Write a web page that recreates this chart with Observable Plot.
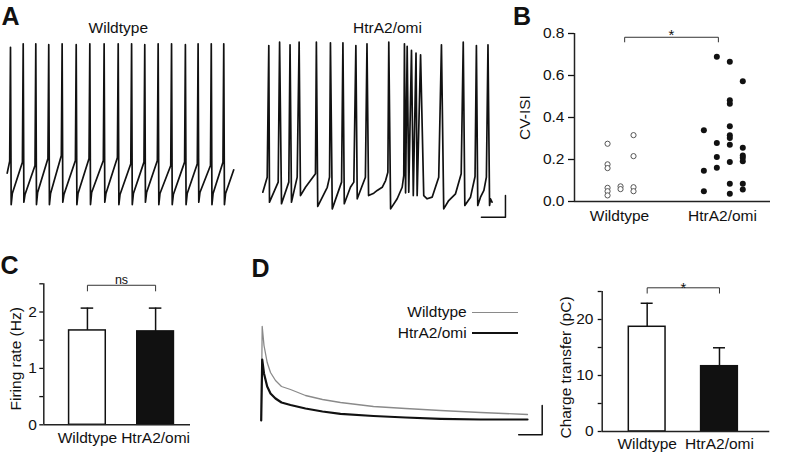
<!DOCTYPE html>
<html><head><meta charset="utf-8">
<script src="https://cdn.jsdelivr.net/npm/d3@7"></script>
<script src="https://cdn.jsdelivr.net/npm/@observablehq/plot@0.6"></script>
<style>
html,body{margin:0;padding:0;background:#fff;}
#fig{position:relative;width:810px;height:454px;overflow:hidden;background:#fff;font-family:"Liberation Sans",Arial,Helvetica,sans-serif;color:#111;}
#fig svg{position:absolute;overflow:visible;}
.lbl{position:absolute;line-height:1;white-space:nowrap;font-size:15.5px;}
.letter{font-weight:bold;font-size:25px;}
.ctr{transform:translateX(-50%);}
.leg{position:absolute;height:0;}
</style></head><body><div id="fig"></div>
<script>
// ---------------- Panel A : membrane potential traces (time s, potential mV) ----------------
const wtSpikeT  = [0.145,0.705,1.26,1.83,2.42,3.04,3.64,4.27,4.89,5.48,6.06,6.65,7.24,7.85,8.41,8.99,9.54];
const wtPeakV   = [23.9,26.1,26.1,25.5,26.1,25.5,26.1,26.1,26.1,26.1,25.5,26.1,26.1,25.5,26.1,26.1,26.1];
const wtThreshV = [-47.3,-47.9,-50,-45.6,-43.8,-46.9,-45.6,-46.9,-45,-48.9,-47.9,-46.9,-50,-47.9,-48.9,-50,-47.9];
const wtTroughV = [-74.4,-72.9,-74.4,-74.4,-72.9,-74.4,-74.4,-72.9,-74.4,-74.4,-72.9,-74.4,-74.4,-74.4,-72.9,-74.4,-74.4];
const wtRecoverV= [-67.5,-68.1,-66.9,-67.5,-68.1,-67.5,-66.9,-67.5,-68.1,-67.5,-66.9,-67.5,-68.1,-67.5,-66.9,-67.5,-67.5];
const wtStartEnd = [[0,-54.8],[9.98,-52.7]];

const htSpikeT = [0.264,0.74,1.2,1.6,2.36,2.98,3.53,4.1,4.59,5.55,6.24,6.36,6.55,6.75,6.95,7.87,8.83,9.41,9.92];
const htPeakV  = [25,27.1,25.4,27.1,27.1,26.7,26.7,25,26.1,27.1,26.1,24.4,21.9,20.2,19.2,25.4,27.1,25,25.4];
const htBaseT = [0,0.194,0.295,0.678,0.824,1.145,1.264,1.515,1.66,1.88,2.10,2.32,2.42,2.84,2.94,3.06,3.47,3.59,3.86,4.01,4.16,4.52,4.66,4.89,5.04,5.26,5.41,5.51,5.63,5.92,6.14,6.21,6.29,6.43,6.63,6.80,7.09,7.24,7.46,7.75,7.97,8.19,8.49,8.74,8.90,9.15,9.35,9.47,9.59,9.74,9.85,9.99,10.03,10.1];
const htBaseV = [-66.7,-57.3,-72.9,-60.4,-73.9,-60.4,-72.9,-57.3,-68.8,-63.6,-59.4,-55.2,-75.6,-63.6,-57.3,-77.1,-60.4,-73.9,-63.6,-60.4,-70.8,-57.3,-68.8,-67.3,-65.6,-63.6,-59.4,-54.2,-77.1,-70.8,-63.6,-56.3,-67.1,-66.7,-68.8,-68.8,-68.8,-70.8,-69.8,-57.3,-77.1,-71.9,-67.7,-55.2,-75,-69.8,-56.9,-75,-69.8,-65.6,-57.3,-75,-70.8,-72.9];
const aScaleT = [9.63,10.69,10.69];
const aScaleV = [-82.3,-82.3,-68.75];
const traceTitles = ["Wildtype","HtrA2/omi"];

// ---------------- Panel B : CV-ISI ----------------
const cvGroups = ["Wildtype","HtrA2/omi"];
const wtCV  = [0.275,0.177,0.159,0.065,0.049,0.029,0.072,0.059,0.316,0.216,0.068,0.049];
const wtCol = [0,0,0,0,0,0,1,1,2,2,2,2];
const htCV  = [0.339,0.146,0.049,0.689,0.278,0.212,0.161,0.666,0.482,0.466,0.358,0.315,0.302,0.270,0.188,0.084,0.037,0.573,0.256,0.219,0.208,0.192,0.084,0.057];
const htCol = [0,0,0,1,1,1,1,2,2,2,2,2,2,2,2,2,2,3,3,3,3,3,3,3];
const cvTicks = [0,0.2,0.4,0.6,0.8];
const cvSig = {level:0.782, label:"*"};

// ---------------- Panel C : firing rate ----------------
const frGroups = ["Wildtype","HtrA2/omi"];
const frMean = [1.673,1.656];
const frSem  = [0.396,0.413];
const frTicks = [0,0.5,1,1.5,2,2.5];
const frSig = {level:2.474, label:"ns"};

// ---------------- Panel D : charge transfer ----------------
const dTimeMs = [0,2,5.6,12,18.6,28.6,40.6,58.6,88.6,122.6,158.6,224.6,288.6,358.6,438.6,532.6];
const dWtPA   = [0,188,150,116,96,80,68,62,50,42,36,28,24,20,16,12];
const dHtPA   = [0,122,94,68,54,44,36,31,24,18,13.4,9,6,3.4,2,2];
const dScaleT = [515,562,562];
const dScaleI = [-28.6,-28.6,30];
const ctGroups = ["Wildtype","HtrA2/omi"];
const ctMean = [18.7,11.66];
const ctSem  = [4.2,3.29];
const ctTicks = [0,5,10,15,20,25];
const ctSig = {level:25.66, label:"*"};

// ======================================================================
const FONT = '"Liberation Sans", Arial, Helvetica, sans-serif';
const FS = 15.5;
const INK = "#111", AX = "#222";
const fig = document.getElementById("fig");
function place(svg, left, top){ svg.style.left = left+"px"; svg.style.top = top+"px"; fig.appendChild(svg); }
function baseStyle(){ return {fontFamily: FONT, fontSize: FS+"px", color: INK, background: "transparent", overflow: "visible"}; }
function html(cls, text, css){ const d=document.createElement("div"); d.className=cls; d.textContent=text; Object.assign(d.style, css); fig.appendChild(d); return d; }
function yLabel(text, dx, dy){ return Plot.text([text],{frameAnchor:"left", text:d=>d, rotate:-90, textAnchor:"middle", lineAnchor:"middle", dx, dy, fontSize:FS}); }

// ---- Panel A traces
const wtTrace = [{t:wtStartEnd[0][0], v:wtStartEnd[0][1]}];
wtSpikeT.forEach((t,i)=>{
  wtTrace.push({t:t-0.035, v:wtThreshV[i]}, {t, v:wtPeakV[i]}, {t:t+0.03, v:wtTroughV[i]}, {t:t+0.08, v:wtRecoverV[i]});
});
wtTrace.push({t:wtStartEnd[1][0], v:wtStartEnd[1][1]});
const htTrace = htBaseT.map((t,i)=>({t, v:htBaseV[i]}))
  .concat(htSpikeT.map((t,i)=>({t, v:htPeakV[i]})))
  .sort((a,b)=>a.t-b.t);
const aScale = aScaleT.map((t,i)=>({t, v:aScaleV[i]}));
const yA = {domain:[-80,30], range:[213,37], axis:null};

place(Plot.plot({width:245, height:225, style:baseStyle(),
  x:{domain:[0,10], range:[6.7,233.7], axis:null}, y:yA,
  marks:[Plot.line(wtTrace,{x:"t", y:"v", stroke:INK, strokeWidth:1.7})]}), 0, 0);
place(Plot.plot({width:260, height:225, style:baseStyle(),
  x:{domain:[0,10], range:[12.3,239.3], axis:null}, y:yA,
  marks:[Plot.line(htTrace,{x:"t", y:"v", stroke:INK, strokeWidth:1.7}),
         Plot.line(aScale,{x:"t", y:"v", stroke:INK, strokeWidth:1.5})]}), 250, 0);

// ---- helper for bracket
function bracket(x1, x2, level, drop){
  return Plot.line([{x:x1,y:level-drop},{x:x1,y:level},{x:x2,y:level},{x:x2,y:level-drop}],
    {x:"x", y:"y", stroke:"#333", strokeWidth:1});
}

// ---- Panel B
const bx = [0.563, 2.466];
const cvPts = wtCV.map((v,i)=>({x:1 + (wtCol[i]-1)*0.126 + 0.01, v}));
const cvPtsH = htCV.map((v,i)=>({x:2 + (htCol[i]-1.5)*0.126 + 0.008, v}));
place(Plot.plot({width:310, height:240, marginLeft:74, marginRight:40, marginTop:33, marginBottom:39,
  style:baseStyle(), x:{domain:bx}, y:{domain:[0,0.8]},
  marks:[
    Plot.axisY({ticks:cvTicks, tickFormat:d3.format(".1f"), tickSize:6, tickPadding:4, label:null, strokeWidth:1.3}),
    Plot.axisX({ticks:[1,2], tickFormat:d=>cvGroups[d-1], tickSize:0, tickPadding:8, label:null}),
    Plot.ruleX([bx[0]],{stroke:AX, strokeWidth:1.5}),
    Plot.ruleY([0],{stroke:AX, strokeWidth:1.5}),
    Plot.dot(cvPts,{x:"x", y:"v", r:2.6, stroke:"#555", fill:"white", strokeWidth:1}),
    Plot.dot(cvPtsH,{x:"x", y:"v", r:3, fill:INK}),
    bracket(1.05, 1.96, cvSig.level, 0.022),
    Plot.text([cvSig],{x:1.505, y:"level", text:"label", dy:-2, fontSize:15}),
    yLabel("CV-ISI", -49, 0)
  ]}), 500, 0);

// ---- Panel C
const frRows = frMean.map((m,i)=>({g:i+1, mean:m, top:m+frSem[i]}));
const cx = [0.36, 2.512];
place(Plot.plot({width:240, height:204, marginLeft:43.3, marginRight:50, marginTop:33.3, marginBottom:29.7,
  style:baseStyle(), x:{domain:cx}, y:{domain:[0,2.5]},
  marks:[
    Plot.axisY({ticks:frTicks, tickFormat:d=>Number.isInteger(d)?d:"", tickSize:4, tickPadding:3, label:null, strokeWidth:1.3}),
    Plot.axisX({ticks:[1,2], tickFormat:d=>frGroups[d-1], tickSize:0, tickPadding:6.7, label:null}),
    Plot.ruleX(frRows,{x:"g", y1:"mean", y2:"top", stroke:INK, strokeWidth:1.5}),
    Plot.ruleY(frRows,{y:"top", x1:d=>d.g-0.092, x2:d=>d.g+0.092, stroke:INK, strokeWidth:1.5}),
    Plot.rect(frRows,{x1:d=>d.g-0.269, x2:d=>d.g+0.269, y1:0, y2:"mean", fill:d=>d.g===1?"white":INK, stroke:INK, strokeWidth:1.5}),
    Plot.ruleX([cx[0]],{stroke:AX, strokeWidth:1.5}),
    Plot.ruleY([0],{stroke:AX, strokeWidth:1.5}),
    bracket(1, 2, frSig.level, 0.1),
    Plot.text([frSig],{x:1.5, y:"level", text:"label", dy:-5.4, fontSize:12.5, fill:INK}),
    yLabel("Firing rate (Hz)", -28, 4.5)
  ]}), 0, 250);

// ---- Panel D traces
const dWt = dTimeMs.map((t,i)=>({t, i:dWtPA[i]}));
const dHt = dTimeMs.map((t,i)=>({t, i:dHtPA[i]}));
const dScale = dScaleT.map((t,i)=>({t, i:dScaleI[i]}));
place(Plot.plot({width:305, height:145, style:baseStyle(),
  x:{domain:[0,600], range:[20.7,320.7], axis:null}, y:{domain:[-40,200], range:[140,20], axis:null},
  marks:[
    Plot.line(dWt,{x:"t", y:"i", stroke:"#8a8a8a", strokeWidth:1.3}),
    Plot.line(dHt,{x:"t", y:"i", stroke:INK, strokeWidth:2.2}),
    Plot.line(dScale,{x:"t", y:"i", stroke:INK, strokeWidth:1.5})
  ]}), 240, 300);

// ---- Panel D bars
const ctRows = ctMean.map((m,i)=>({g:i+1, mean:m, top:m+ctSem[i]}));
const dx2 = [0.378, 2.696];
place(Plot.plot({width:270, height:204, marginLeft:61.7, marginRight:40.7, marginTop:41, marginBottom:23,
  style:baseStyle(), x:{domain:dx2}, y:{domain:[0,25]},
  marks:[
    Plot.axisY({ticks:ctTicks, tickFormat:d=>d%10===0?d:"", tickSize:4, tickPadding:4.7, label:null, strokeWidth:1.3}),
    Plot.axisX({ticks:[1,2], tickFormat:d=>ctGroups[d-1], tickSize:0, tickPadding:6.6, label:null}),
    Plot.ruleX(ctRows,{x:"g", y1:"mean", y2:"top", stroke:INK, strokeWidth:1.5}),
    Plot.ruleY(ctRows,{y:"top", x1:d=>d.g-0.083, x2:d=>d.g+0.083, stroke:INK, strokeWidth:1.5}),
    Plot.rect(ctRows,{x1:d=>d.g-0.254, x2:d=>d.g+0.254, y1:0, y2:"mean", fill:d=>d.g===1?"white":INK, stroke:INK, strokeWidth:1.5}),
    Plot.ruleX([dx2[0]],{stroke:AX, strokeWidth:1.5}),
    Plot.ruleY([0],{stroke:AX, strokeWidth:1.5}),
    bracket(1, 2, ctSig.level, 0.95),
    Plot.text([ctSig],{x:1.5, y:"level", text:"label", dy:0, fontSize:15}),
    yLabel("Charge transfer (pC)", -36, 6)
  ]}), 540, 250);

// ---- HTML text: panel letters, trace titles, legend
html("lbl letter","A",{left:"1.5px", top:"4px"});
html("lbl letter","B",{left:"513px", top:"4px"});
html("lbl letter","C",{left:"0.5px", top:"253px"});
html("lbl letter","D",{left:"251.5px", top:"256px"});
html("lbl ctr",traceTitles[0],{left:"118.3px", top:"19.6px"});
html("lbl ctr",traceTitles[1],{left:"387.5px", top:"19.6px"});
html("lbl",ctGroups[0],{right:(810-466.7)+"px", top:"303.6px"});
html("lbl",ctGroups[1],{right:(810-466.7)+"px", top:"325.2px"});
const l1 = document.createElement("div"); l1.className="leg";
Object.assign(l1.style,{left:"472.3px", width:"46px", top:"311.6px", borderTop:"1.5px solid #8a8a8a"}); fig.appendChild(l1);
const l2 = document.createElement("div"); l2.className="leg";
Object.assign(l2.style,{left:"472.3px", width:"46px", top:"332.2px", borderTop:"2.4px solid #111"}); fig.appendChild(l2);
</script>
</body></html>
